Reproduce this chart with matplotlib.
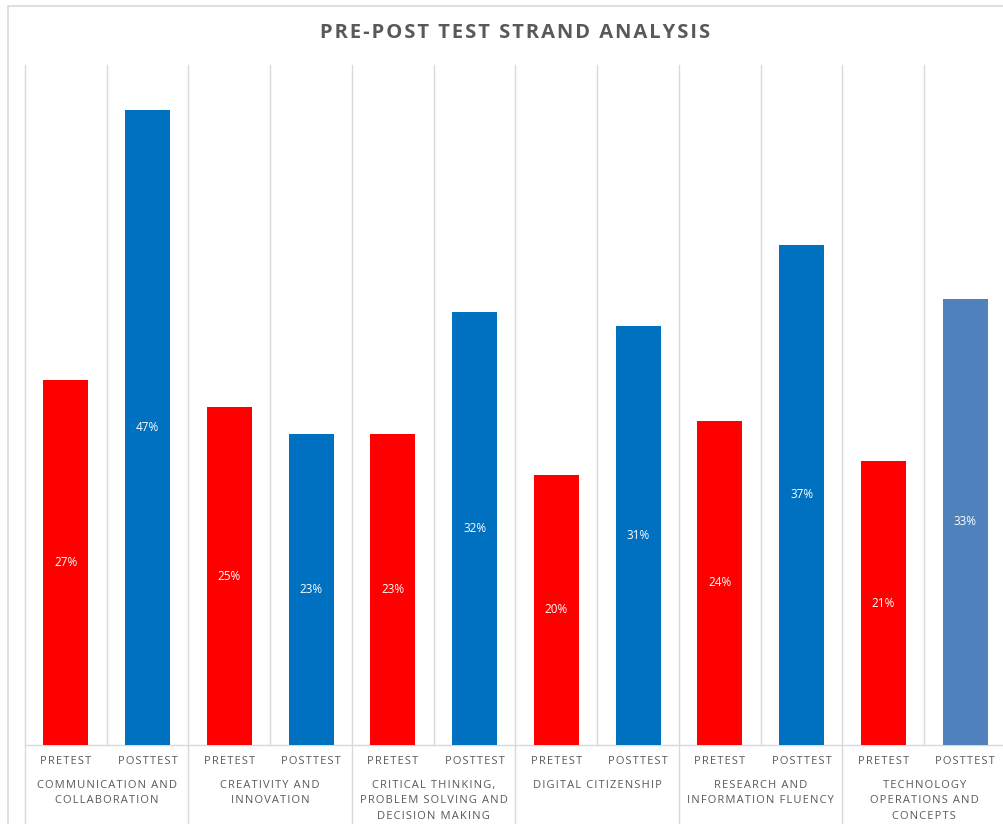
import matplotlib
matplotlib.use("Agg")
import matplotlib.pyplot as plt
from matplotlib.patches import Rectangle
import matplotlib.transforms as mtransforms

strands = [
    "COMMUNICATION AND\nCOLLABORATION",
    "CREATIVITY AND\nINNOVATION",
    "CRITICAL THINKING,\nPROBLEM SOLVING AND\nDECISION MAKING",
    "DIGITAL CITIZENSHIP",
    "RESEARCH AND\nINFORMATION FLUENCY",
    "TECHNOLOGY\nOPERATIONS AND\nCONCEPTS",
]
tests = ["PRETEST", "POSTTEST"]
pretest = [27, 25, 23, 20, 24, 21]
posttest = [47, 23, 32, 31, 37, 33]

RED = "#FF0000"
BLUE = "#0070C0"
LAST_BLUE = "#4F81BD"
GRID = "#D9D9D9"
TEXT = "#595959"

plt.rcParams["font.family"] = ["Open Sans", "DejaVu Sans"]

W, H = 1004, 824
fig = plt.figure(figsize=(W / 100, H / 100), dpi=100)


def spaced(s, gap="\u200a"):
    return "\n".join(gap.join(line) for line in s.split("\n"))


# chart frame
fig.patches.append(Rectangle((8 / W, -0.05), 1.2, (H - 6) / H + 0.05,
                             transform=fig.transFigure, fill=False,
                             edgecolor=GRID, lw=1.2))

ax = fig.add_axes([25 / W, (H - 745) / H, 981 / W, 680 / H])
ax.set_xlim(-0.5, 11.5)
ax.set_ylim(0, 50.3)
ax.axis("off")

values, colors, labels_lvl1 = [], [], []
for i in range(len(strands)):
    values += [pretest[i], posttest[i]]
    colors += [RED, LAST_BLUE if i == len(strands) - 1 else BLUE]
    labels_lvl1 += tests

x = list(range(len(values)))
bars = ax.bar(x, values, width=0.55, color=colors, zorder=3)

for b, v in zip(bars, values):
    ax.text(b.get_x() + b.get_width() / 2, v / 2, f"{v}%", ha="center",
            va="center", color="white", fontsize=8.5, zorder=4)

# separators between bars
trans = mtransforms.blended_transform_factory(ax.transData, ax.transAxes)
bottom_ext = -(H - 745 + 5) / 680
for k in range(len(values) + 1):
    xb = k - 0.5
    y0 = bottom_ext if k % 2 == 0 else 0
    ax.plot([xb, xb], [y0, 1], transform=trans, color=GRID, lw=1,
            clip_on=False, zorder=1)
ax.plot([-0.5, 11.5], [0, 0], color=GRID, lw=1, clip_on=False, zorder=2)

# two-level category labels
for xi, lab in zip(x, labels_lvl1):
    ax.text(xi, -16 / 680, spaced(lab), transform=trans,
            ha="center", va="center", fontsize=8, color=TEXT)
for i, s in enumerate(strands):
    ax.text(2 * i + 0.5, -35 / 680, spaced(s),
            transform=trans, ha="center", va="top", fontsize=8, color=TEXT,
            linespacing=1.55)

fig.text(515 / W, 1 - 33 / H, spaced("PRE-POST TEST STRAND ANALYSIS"),
         ha="center", va="center", fontsize=14.5, fontweight="bold",
         color=TEXT)

fig.savefig("out.png", dpi=100)
